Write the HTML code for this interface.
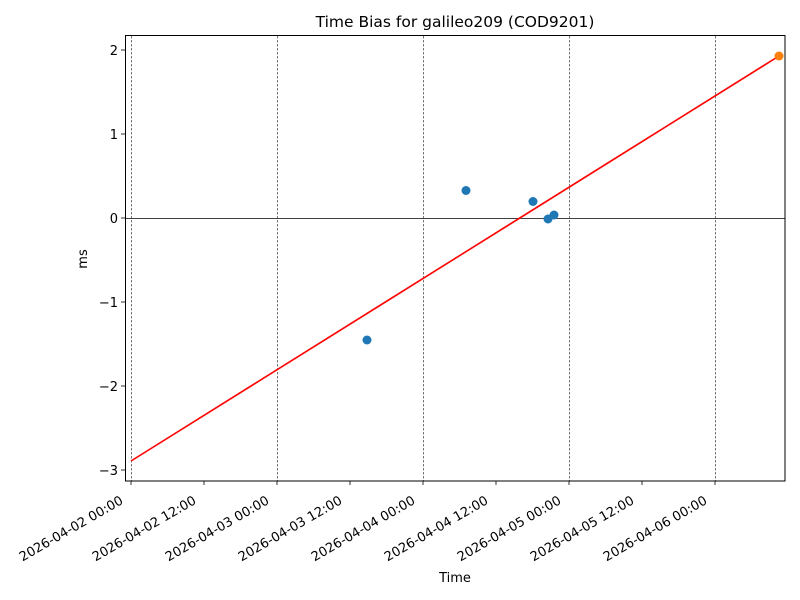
<!DOCTYPE html>
<html><head><meta charset="utf-8"><style>body{margin:0;background:#fff}svg{display:block}text{font-family:"DejaVu Sans","Liberation Sans",sans-serif;fill:#000}</style></head>
<body>
<svg width="800" height="600" viewBox="0 0 800 600" xmlns="http://www.w3.org/2000/svg">
<rect width="800" height="600" fill="#fff"/>
<g stroke="#555" stroke-width="0.8" stroke-dasharray="2.5,1.5">
<line x1="131.5" y1="36" x2="131.5" y2="481"/>
<line x1="277.5" y1="36" x2="277.5" y2="481"/>
<line x1="423.5" y1="36" x2="423.5" y2="481"/>
<line x1="569.5" y1="36" x2="569.5" y2="481"/>
<line x1="715.5" y1="36" x2="715.5" y2="481"/>
</g>
<line x1="125" y1="218.5" x2="785" y2="218.5" stroke="#000" stroke-width="0.8"/>
<line x1="131" y1="461" x2="779" y2="56" stroke="#ff0000" stroke-width="1.6"/>
<g fill="#1f77b4">
<circle cx="367" cy="340" r="4.5"/>
<circle cx="466" cy="190.5" r="4.5"/>
<circle cx="533" cy="201.5" r="4.5"/>
<circle cx="548" cy="219" r="4.5"/>
<circle cx="554" cy="215" r="4.5"/>
</g>
<circle cx="779" cy="56" r="4.5" fill="#ff7f0e"/>
<rect x="125.5" y="35.5" width="659.5" height="445.5" fill="none" stroke="#000" stroke-width="1"/>
<g stroke="#000" stroke-width="0.8">
<line x1="121" y1="50" x2="125" y2="50"/><line x1="121" y1="134" x2="125" y2="134"/>
<line x1="121" y1="218" x2="125" y2="218"/><line x1="121" y1="302" x2="125" y2="302"/>
<line x1="121" y1="386" x2="125" y2="386"/><line x1="121" y1="470" x2="125" y2="470"/>
<line x1="131" y1="481" x2="131" y2="485"/><line x1="204" y1="481" x2="204" y2="485"/>
<line x1="277" y1="481" x2="277" y2="485"/><line x1="350" y1="481" x2="350" y2="485"/>
<line x1="423" y1="481" x2="423" y2="485"/><line x1="496" y1="481" x2="496" y2="485"/>
<line x1="569" y1="481" x2="569" y2="485"/><line x1="642" y1="481" x2="642" y2="485"/>
<line x1="715" y1="481" x2="715" y2="485"/>
</g>
<g font-size="13" text-anchor="end">
<text x="118" y="55">2</text><text x="118" y="139">1</text><text x="118" y="223">0</text>
<text x="118" y="307">−1</text><text x="118" y="391">−2</text><text x="118" y="475">−3</text>
</g>
<g font-size="13" text-anchor="end">
<text transform="translate(124,503) rotate(-30)">2026-04-02 00:00</text>
<text transform="translate(197,503) rotate(-30)">2026-04-02 12:00</text>
<text transform="translate(270,503) rotate(-30)">2026-04-03 00:00</text>
<text transform="translate(343,503) rotate(-30)">2026-04-03 12:00</text>
<text transform="translate(416,503) rotate(-30)">2026-04-04 00:00</text>
<text transform="translate(489,503) rotate(-30)">2026-04-04 12:00</text>
<text transform="translate(562,503) rotate(-30)">2026-04-05 00:00</text>
<text transform="translate(635,503) rotate(-30)">2026-04-05 12:00</text>
<text transform="translate(708,503) rotate(-30)">2026-04-06 00:00</text>
</g>
<text x="455" y="582" font-size="13" text-anchor="middle">Time</text>
<text transform="translate(87,259) rotate(-90)" font-size="13" text-anchor="middle">ms</text>
<text x="455" y="27" font-size="15.5" text-anchor="middle">Time Bias for galileo209 (COD9201)</text>
</svg>
</body></html>
